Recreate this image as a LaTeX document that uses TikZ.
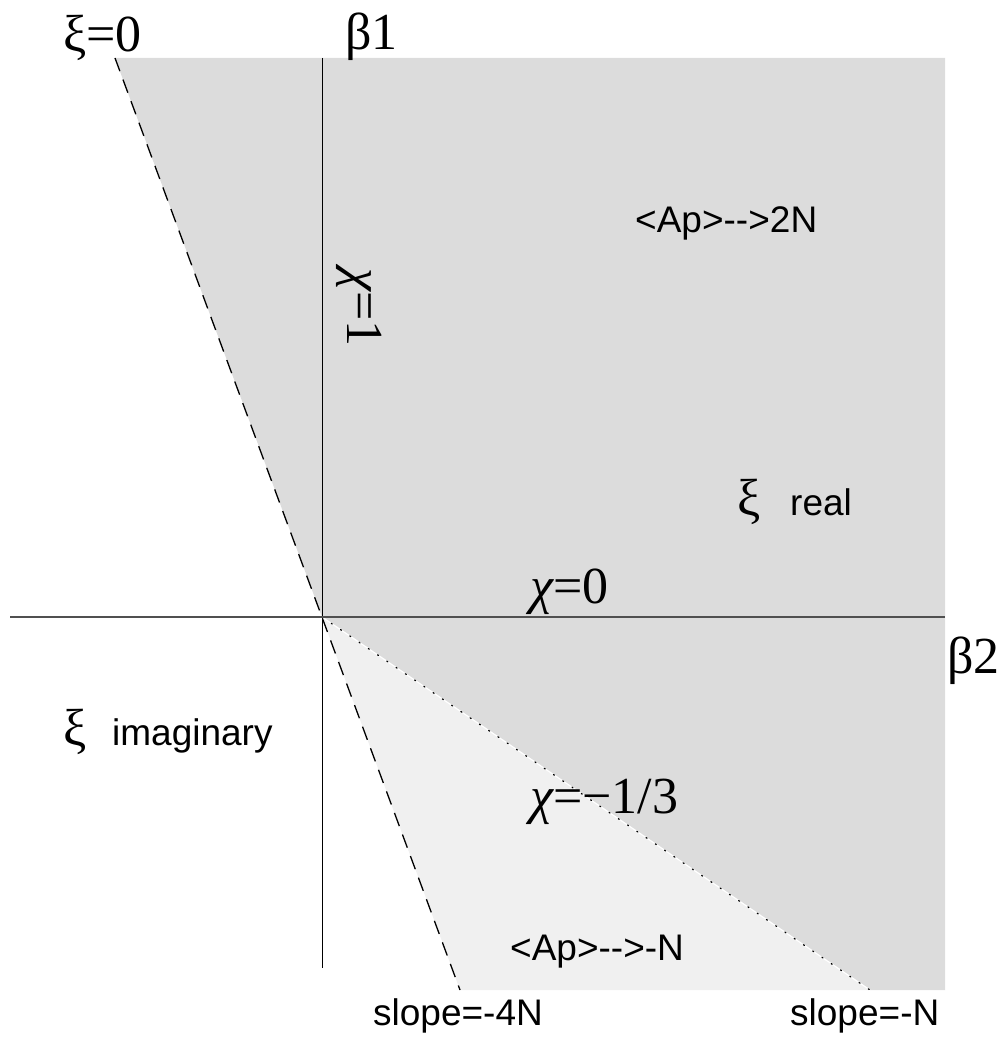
\documentclass[tikz,border=0pt]{standalone}
\usepackage{fontspec}
\setmainfont{Liberation Serif}
\newfontfamily\labsans{Liberation Sans}
\newcommand{\chiglyph}{{\itshape χ}}
\definecolor{darkfill}{RGB}{220,220,220}
\definecolor{lightfill}{RGB}{240,240,240}
\definecolor{axisgray}{RGB}{80,80,80}
\tikzset{
  serlab/.style={inner sep=0pt, anchor=base west, font=\fontsize{52}{52}\selectfont},
  sanlab/.style={inner sep=0pt, anchor=base west, font=\labsans\fontsize{37}{37}\selectfont},
  dashline/.style={line width=1.3pt, dash pattern=on 14pt off 9pt},
  dotline/.style={line width=1.2pt, dash pattern=on 1.2pt off 10pt, line cap=round}
}
\begin{document}
\begin{tikzpicture}[x=1pt,y=-1pt]
\useasboundingbox (0,0) rectangle (1006,1040);
% key points
\coordinate (T) at (115,58);
\coordinate (TR) at (945,58);
\coordinate (BR) at (945,990);
\coordinate (BN) at (870,990);
\coordinate (O) at (322,617);
\coordinate (B4) at (460,990);
\coordinate (VT) at (322,58);
\coordinate (VB) at (322,968);
\coordinate (HL) at (10,617);
\coordinate (HR) at (945,617);
% regions
\fill[darkfill] (T) -- (TR) -- (BR) -- (BN) -- (O) -- cycle;
\fill[lightfill] (O) -- (BN) -- (B4) -- cycle;
% boundaries
\draw[white, line width=1.2pt] (O) -- (BN);
\draw[dotline] (O) -- (BN);
\draw[dashline] (T) -- (B4);
% axes
\draw[black, line width=1pt] (VT) -- (VB);
\draw[axisgray, line width=1.8pt] (HL) -- (HR);
% labels
\node[serlab] (xi0) at (63,52) {ξ=0};
\node[serlab] (b1) at (345,50) {β1};
\node[serlab, rotate=-90] (chi1) at (347,268) {\chiglyph=1};
\node[serlab] (chi0) at (530,603) {\chiglyph=0};
\node[serlab] (b2) at (947,673) {β2};
\node[serlab] (chim) at (530,813) {\chiglyph=−1/3};
\node[serlab] (xir) at (737,515) {ξ};
\node[serlab] (xii) at (63,745) {ξ};
\node[sanlab] (ap2n) at (635,233) {<Ap>-->2N};
\node[sanlab] (real) at (790,515) {real};
\node[sanlab] (imag) at (112,745) {imaginary};
\node[sanlab] (apn) at (510,960) {<Ap>-->-N};
\node[sanlab] (s4n) at (373,1025) {slope=-4N};
\node[sanlab] (sn) at (790,1025) {slope=-N};
\end{tikzpicture}
\end{document}
